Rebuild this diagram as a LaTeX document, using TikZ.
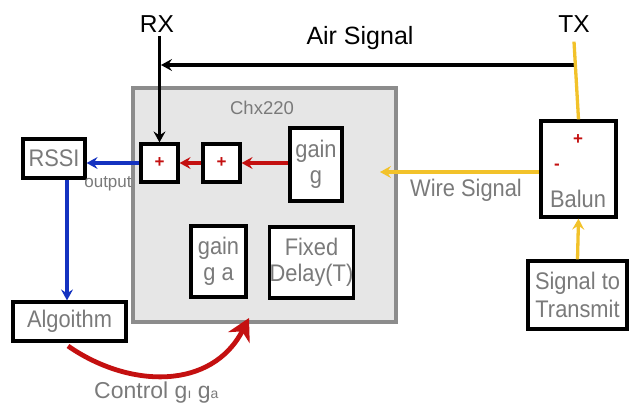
\documentclass[tikz,border=0pt]{standalone}
\usepackage{fontspec}
\setmainfont{Liberation Sans}
\newfontfamily\nf{Liberation Sans}[FakeStretch=0.91]
\usetikzlibrary{arrows.meta}
\definecolor{txtgray}{HTML}{7A7A7A}
\definecolor{boxfill}{HTML}{E6E6E6}
\definecolor{boxedge}{HTML}{8C8C8C}
\definecolor{myred}{HTML}{C41010}
\definecolor{myblue}{HTML}{1432C0}
\definecolor{myyellow}{HTML}{F2C22A}
\tikzset{
  blk/.style={draw=black, line width=3.2pt, fill=white, inner sep=0pt, text=txtgray, font=\nf\fontsize{24}{26}\selectfont, align=center},
  gtxt/.style={inner sep=0pt, text=txtgray, font=\nf\fontsize{24}{26}\selectfont},
  plus/.style={inner sep=0pt, text=myred, font=\bfseries\fontsize{17}{18}\selectfont},
  lbl/.style={inner sep=0pt, text=black},
  arr/.style={-{Stealth[length=11pt,width=12pt,inset=4pt]}, line width=3.3pt},
}
\begin{document}
\begin{tikzpicture}[x=1pt,y=-1pt]
\useasboundingbox (0,0) rectangle (631,405);
% gray container
\node[draw=boxedge, fill=boxfill, line width=3.8pt, minimum width=263pt, minimum height=234pt, inner sep=0pt] (chx) at (264.5,205) {};
\node[inner sep=0pt, text=txtgray, font=\fontsize{18.5}{20}\selectfont] (chxlbl) at (262,108) {Chx220};
% labels
\node[lbl, font=\fontsize{24.5}{26}\selectfont] (rx) at (157,24) {RX};
\node[lbl, font=\fontsize{24.5}{26}\selectfont] (tx) at (574,24) {TX};
\node[lbl, font=\fontsize{25}{27}\selectfont] (air) at (360,38) {Air Signal};
% boxes
\node[blk, minimum width=37pt, minimum height=38pt] (p1) at (159.5,163) {};
\node[plus] at (p1) {+};
\node[blk, minimum width=37pt, minimum height=38pt] (p2) at (221.5,163) {};
\node[plus] at (p2) {+};
\node[blk, minimum width=52pt, minimum height=73pt] (gg) at (316,164.5) {gain\\ g};
\node[blk, minimum width=55pt, minimum height=71pt] (gga) at (218.5,261.5) {gain\\ g a};
\node[blk, minimum width=83pt, minimum height=71pt] (fd) at (311.5,262.5) {Fixed\\ Delay(T)};
\node[blk, minimum width=62pt, minimum height=39pt] (rssi) at (54,158.5) {RSSI};
\node[blk, minimum width=113pt, minimum height=39pt] (alg) at (69.5,321.5) {Algoithm};
\node[blk, minimum width=75pt, minimum height=96pt] (balun) at (578.5,169) {};
\node[plus] (bplus) at (578,140) {+};
\node[plus] (bminus) at (557,167) {-};
\node[gtxt] (btxt) at (578,199) {Balun};
\node[blk, minimum width=99pt, minimum height=68pt, font=\nf\fontsize{24}{28}\selectfont] (sig) at (577.5,295) {Signal to\\ Transmit};
% text labels
\node[inner sep=0pt, text=txtgray, font=\fontsize{17}{18}\selectfont] (outlbl) at (108,184) {output};
\node[gtxt] (wire) at (466,190) {Wire Signal};
\node[inner sep=0pt, text=txtgray, font=\fontsize{23}{24}\selectfont, anchor=west] (ctrl) at (94,393) {Control g{\fontsize{14}{14}\selectfont ı} g{\fontsize{14}{14}\selectfont a}};
% coordinates
\coordinate (txair) at (575,65);
\coordinate (wiretip) at (380,172);
\coordinate (bl) at (67,0);
\coordinate (ctrlstart) at (68,346);
\coordinate (ctrltip) at (249,318);
% air signal
\draw[arr, black] (txair) -- ([xshift=1.5pt]p1.north |- txair);
\draw[arr, black] (p1.north |- rx.south) ++(0,3) -- (p1.north);
% yellow
\draw[myyellow, line width=3.3pt] (tx.south) ++(0,9) -- (balun.north);
\draw[arr, myyellow] (balun.west |- wiretip) -- (wiretip);
\draw[arr, myyellow] (sig.north) -- (balun.south);
% red chain
\draw[arr, myred] (gg.west |- p2) -- (p2.east);
\draw[arr, myred] (p2.west) -- (p1.east);
% blue
\draw[arr, myblue] (p1.west) -- (rssi.east |- p1);
\draw[arr, myblue] (rssi.south -| bl) -- (alg.north -| bl);
% control curve
\draw[myred, line width=4.8pt, -{Stealth[length=22pt,width=24pt,inset=7pt]}] (ctrlstart) .. controls (130,389) and (212,390) .. (ctrltip);
\end{tikzpicture}
\end{document}
